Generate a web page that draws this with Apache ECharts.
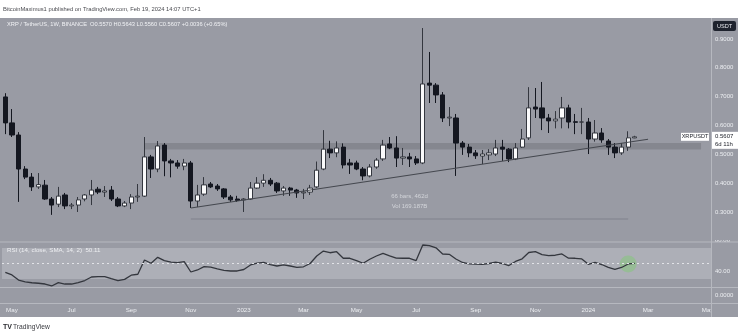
<!DOCTYPE html>
<html>
<head>
<meta charset="utf-8">
<title>XRP / TetherUS 1W</title>
<script src="https://cdn.jsdelivr.net/npm/echarts/dist/echarts.min.js"></script>
<style>
  html, body { margin: 0; padding: 0; background: #ffffff; overflow: hidden; }
  #c { width: 738px; height: 334px; }
</style>
</head>
<body>
<div id="c"></div>
<script>
// ---- Weekly XRP/USDT candles (Binance), Apr 2022 – Feb 2024 ----
const FIRST_WEEK = '2022-04-25';
const WEEK_COUNT = 107; // candles plus empty weeks to the right edge
const opens = [
  0.699,0.609,0.567,0.449,0.421,0.387,0.393,0.345,0.327,0.359,
  0.321,0.324,0.345,0.359,0.379,0.369,0.376,0.345,0.321,0.331,
  0.352,0.355,0.491,0.449,0.532,0.477,0.470,0.459,0.470,0.338,
  0.362,0.397,0.390,0.380,0.352,0.345,0.342,0.345,0.383,0.400,
  0.410,0.400,0.373,0.383,0.376,0.366,0.369,0.387,0.449,0.518,
  0.505,0.525,0.470,0.470,0.449,0.425,0.456,0.484,0.536,0.522,
  0.487,0.491,0.484,0.470,0.747,0.740,0.706,0.626,0.626,0.539,
  0.525,0.505,0.494,0.498,0.501,0.525,0.518,0.484,0.525,0.557,
  0.664,0.661,0.626,0.616,0.626,0.661,0.613,0.612,0.612,0.553,
  0.574,0.546,0.525,0.505,0.525,0.5570
];
const highs = [
  0.712,0.657,0.577,0.459,0.435,0.435,0.411,0.352,0.387,0.366,
  0.331,0.352,0.362,0.411,0.387,0.390,0.390,0.352,0.338,0.362,
  0.397,0.560,0.498,0.546,0.539,0.484,0.480,0.484,0.477,0.394,
  0.421,0.404,0.397,0.383,0.359,0.356,0.348,0.404,0.421,0.431,
  0.418,0.404,0.390,0.387,0.380,0.380,0.394,0.475,0.584,0.547,
  0.545,0.538,0.484,0.478,0.456,0.466,0.487,0.550,0.560,0.563,
  0.522,0.505,0.494,0.938,0.855,0.747,0.716,0.664,0.640,0.546,
  0.536,0.515,0.515,0.518,0.550,0.550,0.522,0.539,0.588,0.733,
  0.730,0.751,0.640,0.650,0.699,0.672,0.640,0.661,0.626,0.619,
  0.591,0.553,0.539,0.539,0.580,0.5643
];
const lows = [
  0.570,0.560,0.335,0.414,0.373,0.380,0.342,0.290,0.317,0.310,
  0.310,0.300,0.337,0.324,0.362,0.352,0.338,0.317,0.317,0.310,
  0.335,0.352,0.418,0.438,0.424,0.420,0.450,0.445,0.314,0.317,
  0.356,0.383,0.373,0.345,0.335,0.335,0.300,0.342,0.380,0.387,
  0.390,0.366,0.356,0.356,0.349,0.345,0.359,0.383,0.445,0.487,
  0.490,0.451,0.432,0.445,0.410,0.420,0.450,0.477,0.518,0.456,
  0.463,0.456,0.463,0.466,0.678,0.678,0.612,0.598,0.425,0.498,
  0.490,0.484,0.466,0.480,0.494,0.477,0.473,0.480,0.522,0.550,
  0.626,0.584,0.574,0.590,0.590,0.590,0.570,0.570,0.501,0.544,
  0.540,0.498,0.487,0.498,0.512,0.5560
];
const closes = [
  0.609,0.567,0.449,0.421,0.387,0.395,0.345,0.324,0.355,0.321,
  0.324,0.342,0.359,0.376,0.369,0.373,0.345,0.321,0.331,0.352,
  0.355,0.491,0.449,0.529,0.477,0.470,0.459,0.470,0.338,0.359,
  0.394,0.387,0.380,0.352,0.342,0.340,0.345,0.383,0.400,0.410,
  0.397,0.373,0.383,0.376,0.366,0.369,0.383,0.445,0.518,0.505,
  0.522,0.463,0.463,0.449,0.425,0.456,0.480,0.532,0.522,0.487,
  0.491,0.484,0.470,0.744,0.740,0.706,0.626,0.629,0.539,0.525,
  0.505,0.495,0.501,0.505,0.522,0.518,0.484,0.522,0.553,0.661,
  0.657,0.626,0.616,0.622,0.661,0.612,0.611,0.612,0.553,0.574,
  0.550,0.525,0.505,0.525,0.5571,0.5607
];
// RSI (14, close) per week
const rsi = [
  38.5,35.3,28.8,26.5,25.3,24.7,23.7,21.2,25.4,23.7,
  23.7,25.6,28.2,32.7,33.1,33.1,30.5,28.0,29.7,35.0,
  36.2,54.5,50.3,57.9,53.6,51.7,51.0,52.3,39.1,41.7,
  45.9,45.3,43.2,41.3,40.4,40.4,42.3,48.1,50.6,51.5,
  48.7,46.8,48.1,46.8,45.1,45.8,50.0,59.6,66.0,63.8,
  65.1,56.7,56.7,53.8,50.3,55.4,59.6,63.1,59.9,56.8,
  56.7,56.7,53.8,73.7,72.9,70.1,62.2,61.8,55.8,51.3,
  49.6,49.1,49.0,50.0,51.9,50.0,47.4,52.6,56.0,64.1,
  65.1,61.5,60.1,60.6,62.2,56.8,56.7,55.8,49.0,51.3,
  48.7,45.1,42.6,44.9,49.4,50.11
];
// Drawings on the price pane
const trendWeeks = ['2022-11-07', '2024-03-04'];
const trendPrices = [0.314, 0.552];
const rangeWeeks = ['2022-11-07', '2024-02-12'];
const rangePrice = 0.2757;
const rangeText = ['66 bars, 462d', 'Vol 169.187B'];
const zoneWeeks = ['2022-09-19', '2024-04-29'];
const zonePrices = [0.517, 0.539];
const markedRsiWeek = '2024-02-12';
// Time axis labels
const tickWeeks = ['2022-05-02','2022-07-04','2022-09-05','2022-11-07','2023-01-02','2023-03-06',
  '2023-05-01','2023-07-03','2023-09-04','2023-11-06','2024-01-01','2024-03-04','2024-05-06'];
const tickTexts = ['May','Jul','Sep','Nov','2023','Mar','May','Jul','Sep','Nov','2024','Mar','May'];
// Pane label ticks
const rsiTicks = [40, 80];
const oscTicks = [0];

// ---- build ----
const weeks = Array.from({length: WEEK_COUNT}, (_, i) =>
  new Date(Date.parse(FIRST_WEEK) + i * 604800000).toISOString().slice(0, 10));
const tickMap = {};
tickWeeks.forEach((w, i) => { tickMap[w] = tickTexts[i]; });

const FONT = '"Liberation Sans", Arial, sans-serif';
const BG = '#999ba4';
const SEP = '#b6b8bf';
const AXIS_TXT = '#eceef1';
const RIGHT = 27, AXIS_X = 738 - RIGHT;

const chart = echarts.init(document.getElementById('c'), null, {renderer: 'canvas', width: 738, height: 334});

const candleData = opens.map((o, i) => [o, closes[i], lows[i], highs[i]]);
const last = opens.length - 1;

function xAxisFor(g) {
  return {
    type: 'category', gridIndex: g, data: weeks, boundaryGap: true,
    axisLine: {show: false}, axisTick: {show: false}, splitLine: {show: false},
    axisPointer: {show: false},
    axisLabel: g === 2 ? {
      show: true, margin: 4, color: AXIS_TXT, fontSize: 6.2, fontFamily: FONT,
      interval: (idx, val) => tickMap[val] !== undefined,
      formatter: (val) => tickMap[val] || ''
    } : {show: false}
  };
}

const option = {
  backgroundColor: '#ffffff',
  animation: false,
  grid: [
    {left: 2, right: RIGHT, top: 10.17, height: 230.64, containLabel: false, outerBoundsMode: 'none'},
    {left: 2, right: RIGHT, top: 240.1, height: 46.8, containLabel: false, outerBoundsMode: 'none'},
    {left: 2, right: RIGHT, top: 288, height: 15, containLabel: false, outerBoundsMode: 'none'}
  ],
  xAxis: [xAxisFor(0), xAxisFor(1), xAxisFor(2)],
  yAxis: [
    {
      gridIndex: 0, position: 'right', min: 0.2, max: 1.0, interval: 0.1, scale: true,
      axisLine: {show: false}, axisTick: {show: false}, splitLine: {show: false},
      axisLabel: {
        margin: 4, color: AXIS_TXT, fontSize: 6, fontFamily: FONT, align: 'left',
        showMinLabel: true, showMaxLabel: true,
        formatter: (v) => (v > 0.25 && v < 0.95) ? v.toFixed(4) : ''
      }
    },
    {
      gridIndex: 1, position: 'right', min: 20, max: 80, interval: 20,
      axisLine: {show: false}, axisTick: {show: false}, splitLine: {show: false},
      axisLabel: {
        margin: 4, color: AXIS_TXT, fontSize: 6, fontFamily: FONT, align: 'left',
        showMinLabel: true, showMaxLabel: true,
        formatter: (v) => rsiTicks.includes(Math.round(v)) ? Math.round(v).toFixed(2) : ''
      }
    },
    {
      gridIndex: 2, position: 'right', min: -1, max: 1, interval: 1,
      axisLine: {show: false}, axisTick: {show: false}, splitLine: {show: false},
      axisLabel: {
        margin: 4, color: AXIS_TXT, fontSize: 6, fontFamily: FONT, align: 'left',
        formatter: (v) => oscTicks.includes(v) ? v.toFixed(4) : ''
      }
    }
  ],
  series: [
    {
      type: 'candlestick', xAxisIndex: 0, yAxisIndex: 0, data: candleData,
      barWidth: '72%', z: 3,
      itemStyle: {
        color: '#fafafb', color0: '#141720',
        borderColor: '#34373f', borderColor0: '#141720', borderWidth: 1
      },
      markArea: {
        silent: true,
        itemStyle: {color: '#85878f'},
        data: [[{xAxis: zoneWeeks[0], yAxis: zonePrices[0]}, {xAxis: zoneWeeks[1], yAxis: zonePrices[1]}]]
      }
    },
    {
      type: 'line', xAxisIndex: 0, yAxisIndex: 0, z: 4, symbol: 'none', silent: true,
      data: trendWeeks.map((w, i) => [w, trendPrices[i]]),
      lineStyle: {color: '#45484f', width: 1.1}
    },
    {
      type: 'line', xAxisIndex: 0, yAxisIndex: 0, z: 2, symbol: 'none', silent: true,
      data: rangeWeeks.map((w) => [w, rangePrice]),
      lineStyle: {color: '#80838c', width: 1}
    },
    {
      type: 'scatter', xAxisIndex: 1, yAxisIndex: 1, z: 2, silent: true,
      symbolSize: 17,
      data: [[markedRsiWeek, rsi[weeks.indexOf(markedRsiWeek)]]],
      itemStyle: {color: 'rgba(122, 206, 110, 0.55)'}
    },
    {
      type: 'line', xAxisIndex: 1, yAxisIndex: 1, z: 3, symbol: 'none', silent: true,
      data: rsi,
      lineStyle: {color: '#34373e', width: 1.3},
      markArea: {
        silent: true,
        itemStyle: {color: '#adafb7'},
        data: [[{yAxis: 30}, {yAxis: 70}]]
      },
      markLine: {
        silent: true, symbol: 'none', label: {show: false},
        lineStyle: {color: '#e2e3e7', width: 1, type: [2, 3]},
        data: [{yAxis: 50}]
      }
    }
  ],
  graphic: [
    {id: 'bg', type: 'rect', z: -10, silent: true, shape: {x: 0, y: 18, width: 738, height: 299}, style: {fill: BG}},
    {id: 'credit', type: 'text', z: 100, left: 3, top: 6, silent: true,
      style: {text: 'BitcoinMaximus1 published on TradingView.com, Feb 19, 2024 14:07 UTC+1', fill: '#4a4b50', font: '5.8px ' + FONT}},
    // pane separators
    {id: 'sep1', type: 'line', z: 60, silent: true, shape: {x1: 0, y1: 242, x2: 738, y2: 242}, style: {stroke: SEP, lineWidth: 1}},
    {id: 'sep2', type: 'line', z: 60, silent: true, shape: {x1: 0, y1: 287.5, x2: 738, y2: 287.5}, style: {stroke: SEP, lineWidth: 1}},
    {id: 'sep3', type: 'line', z: 60, silent: true, shape: {x1: 0, y1: 303.5, x2: 738, y2: 303.5}, style: {stroke: SEP, lineWidth: 1}},
    // right price scale column covers labels that run past the plot
    {id: 'cover1', type: 'rect', z: 55, silent: true, shape: {x: AXIS_X + 0.5, y: 304, width: 30, height: 13}, style: {fill: BG}},
    {id: 'cover2', type: 'rect', z: 55, silent: true, shape: {x: AXIS_X + 0.5, y: 232, width: 30, height: 8}, style: {fill: BG}},
    {id: 'vsep', type: 'line', z: 60, silent: true, shape: {x1: AXIS_X + 0.5, y1: 18, x2: AXIS_X + 0.5, y2: 317}, style: {stroke: SEP, lineWidth: 1}},
    // currency button
    {id: 'usdt', type: 'rect', z: 100, silent: true, shape: {x: 713, y: 21, width: 23, height: 10, r: 2}, style: {fill: '#1e222d'}},
    {id: 'usdtText', type: 'text', z: 101, silent: true, x: 724.5, y: 26,
      style: {text: 'USDT', fill: '#e8e9ee', font: '5.6px ' + FONT, align: 'center', verticalAlign: 'middle'}},
    // footer
    {id: 'tvLogo', type: 'text', z: 100, silent: true, x: 3, y: 327,
      style: {text: 'TV', fill: '#2a2b30', font: 'bold 7px ' + FONT, verticalAlign: 'middle'}},
    {id: 'tvText', type: 'text', z: 100, silent: true, x: 13, y: 327,
      style: {text: 'TradingView', fill: '#3a3b40', font: '6.7px ' + FONT, verticalAlign: 'middle'}}
  ]
};
chart.setOption(option);

// ---- labels anchored to data ----
const fmt4 = (v) => v.toFixed(4);
const chg = closes[last] - closes[last - 1];
const pct = chg / closes[last - 1] * 100;
const sign = chg >= 0 ? '+' : '-';
const header = 'XRP / TetherUS, 1W, BINANCE  O' + fmt4(opens[last]) + ' H' + fmt4(highs[last]) +
  ' L' + fmt4(lows[last]) + ' C' + fmt4(closes[last]) + ' ' + sign + fmt4(Math.abs(chg)) +
  ' (' + sign + Math.abs(pct).toFixed(2) + '%)';

const lastY = chart.convertToPixel({gridIndex: 0}, [weeks[last], closes[last]])[1];
const mid = chart.convertToPixel({gridIndex: 0},
  [weeks[Math.round((weeks.indexOf(rangeWeeks[0]) + weeks.indexOf(rangeWeeks[1])) / 2)], rangePrice]);
const rsiLabel = 'RSI (14, close, SMA, 14, 2)  ' + rsi[rsi.length - 1].toFixed(2);

chart.setOption({
  graphic: [
    {id: 'header', type: 'text', z: 100, silent: true, x: 7, y: 24,
      style: {text: header, fill: '#f1f2f5', font: '5.7px ' + FONT, verticalAlign: 'middle'}},
    {id: 'rsiLabel', type: 'text', z: 100, silent: true, x: 7, y: 250,
      style: {text: rsiLabel, fill: '#eeeff2', font: '6.2px ' + FONT, verticalAlign: 'middle'}},
    {id: 'range1', type: 'text', z: 100, silent: true, x: mid[0], y: mid[1] - 23,
      style: {text: rangeText[0], fill: '#d3d5da', font: '6px ' + FONT, align: 'center', verticalAlign: 'middle'}},
    {id: 'range2', type: 'text', z: 100, silent: true, x: mid[0], y: mid[1] - 13,
      style: {text: rangeText[1], fill: '#d3d5da', font: '6px ' + FONT, align: 'center', verticalAlign: 'middle'}},
    {id: 'symBox', type: 'rect', z: 100, silent: true, shape: {x: 681, y: lastY - 4, width: 28, height: 8}, style: {fill: '#ffffff'}},
    {id: 'symText', type: 'text', z: 101, silent: true, x: 695, y: lastY,
      style: {text: 'XRPUSDT', fill: '#1b1e27', font: '5.6px ' + FONT, align: 'center', verticalAlign: 'middle'}},
    {id: 'priceBox', type: 'rect', z: 100, silent: true, shape: {x: AXIS_X + 1, y: lastY - 5, width: 27, height: 17}, style: {fill: '#ffffff'}},
    {id: 'priceText', type: 'text', z: 101, silent: true, x: 715, y: lastY,
      style: {text: fmt4(closes[last]), fill: '#1b1e27', font: '6px ' + FONT, verticalAlign: 'middle'}},
    {id: 'countdown', type: 'text', z: 101, silent: true, x: 715, y: lastY + 7.5,
      style: {text: '6d 11h', fill: '#1b1e27', font: '6px ' + FONT, verticalAlign: 'middle'}}
  ]
});
</script>
</body>
</html>
